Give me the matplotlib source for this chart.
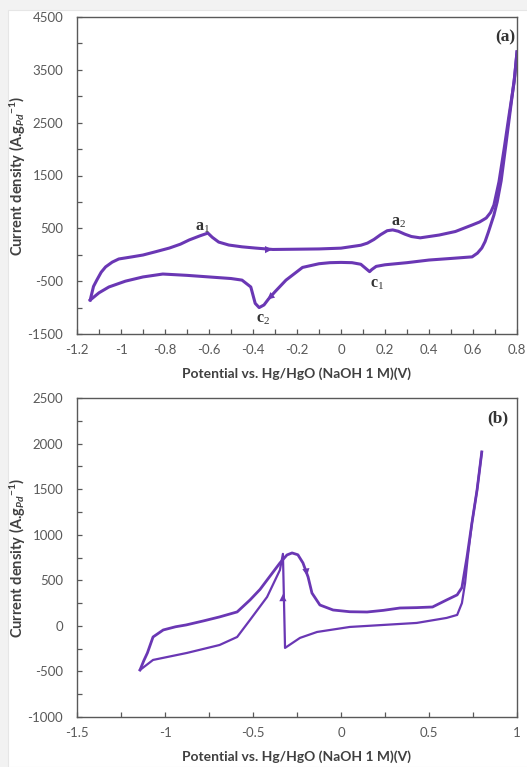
import numpy as np
import matplotlib.pyplot as plt
from matplotlib.patches import Rectangle
from matplotlib.ticker import MultipleLocator

plt.rcParams['font.family'] = ['Lato', 'DejaVu Sans']
plt.rcParams['mathtext.fontset'] = 'custom'
plt.rcParams['mathtext.rm'] = 'Liberation Serif'
plt.rcParams['mathtext.bf'] = 'Liberation Serif:bold'
plt.rcParams['mathtext.it'] = 'Lato:italic:bold'
plt.rcParams['mathtext.sf'] = 'Lato:bold'

# ---- panel (a) : CV, forward (anodic) and reverse (cathodic) scans
a_fwd_x = [-1.14, -1.125, -1.11, -1.09, -1.07, -1.04, -1.01, -0.95, -0.90, -0.84, -0.78,
           -0.73, -0.69, -0.64, -0.605, -0.585, -0.556, -0.51, -0.45, -0.39, -0.31, -0.20,
           -0.10, 0.0, 0.09, 0.12, 0.15, 0.18, 0.21, 0.235, 0.26, 0.29, 0.32, 0.36, 0.446,
           0.52, 0.596, 0.63, 0.66, 0.68, 0.695, 0.718, 0.742, 0.764, 0.787, 0.80]
a_fwd_y = [-857, -600, -480, -330, -230, -140, -80, -40, -5, 60, 127,
           200, 280, 360, 410, 330, 240, 184, 150, 127, 100, 105,
           110, 125, 180, 220, 290, 380, 455, 470, 445, 390, 345, 320, 373,
           440, 563, 620, 695, 800, 940, 1380, 2020, 2645, 3270, 3840]
a_rev_x = [0.80, 0.79, 0.77, 0.75, 0.728, 0.71, 0.695, 0.67, 0.655, 0.64, 0.62, 0.596,
           0.50, 0.40, 0.30, 0.20, 0.16, 0.14, 0.13, 0.11, 0.09, 0.05, 0.0, -0.05,
           -0.10, -0.175, -0.25, -0.30, -0.33, -0.35, -0.372, -0.39, -0.41, -0.45,
           -0.50, -0.60, -0.70, -0.81, -0.90, -0.98, -1.055, -1.10, -1.14]
a_rev_y = [3840, 3400, 2750, 2100, 1400, 1000, 750, 430, 250, 127, 30, -40,
           -70, -100, -150, -190, -220, -280, -320, -250, -180, -150, -145, -150,
           -170, -240, -480, -700, -840, -950, -1000, -920, -610, -480,
           -450, -420, -390, -365, -420, -500, -610, -720, -857]

# ---- panel (b)
b_fwd_x = [-1.142, -1.12, -1.10, -1.068, -1.01, -0.94, -0.88, -0.78, -0.69, -0.59, -0.517,
           -0.46, -0.42, -0.347, -0.307, -0.278, -0.245, -0.216, -0.187, -0.165, -0.12, -0.045,
           0.05, 0.148, 0.24, 0.335, 0.43, 0.52, 0.60, 0.66, 0.687, 0.716, 0.744, 0.773, 0.80]
b_fwd_y = [-484, -380, -297, -122, -45, -10, 10, 55, 98, 153, 284,
           400, 503, 690, 778, 800, 780, 690, 536, 360, 229, 174,
           155, 152, 170, 196, 200, 207, 284, 340, 420, 756, 1129, 1490, 1908]
b_rev_x = [0.80, 0.773, 0.744, 0.72, 0.705, 0.687, 0.66, 0.60, 0.43, 0.24, 0.05,
           -0.136, -0.233, -0.318, -0.33, -0.347, -0.42, -0.517, -0.59,
           -0.69, -0.875, -1.068, -1.142]
b_rev_y = [1908, 1490, 1129, 750, 470, 250, 120, 87, 32, 10, -12,
           -67, -132, -242, 790, 613, 317, 65, -122,
           -210, -297, -374, -484]

# peak labels and scan-direction arrows
a_labels = [('a', '1', -0.63, 505), ('a', '2', 0.26, 600), ('c', '1', 0.165, -570), ('c', '2', -0.355, -1240)]
a_arrows = [((-0.30, 100), (-0.36, 97)), ((-0.345, -880), (-0.29, -690))]
b_arrows = [((-0.33, 380), (-0.33, 150)), ((-0.19, 520), (-0.205, 690))]

purple = '#6a37b4'
grey = '#595959'

fig = plt.figure(figsize=(5.27, 7.67), dpi=100, facecolor='#f2f2f2')
bg = Rectangle((8 / 527, 0), 1, 757 / 767, transform=fig.transFigure,
               facecolor='white', edgecolor='#e6e6e6', lw=0.8, zorder=-10)
fig.add_artist(bg)


def style(ax):
    for s in ax.spines.values():
        s.set_color(grey)
        s.set_linewidth(1.0)
    ax.tick_params(which='both', direction='in', length=3.5, width=0.9, color=grey,
                   labelcolor=grey, labelsize=9.5)
    ax.tick_params(axis='y', pad=10)
    ax.tick_params(axis='x', pad=7)
    ax.set_xlabel('Potential vs. Hg/HgO (NaOH 1 M)(V)', fontsize=10, fontweight='bold',
                  color='#404040', labelpad=8)
    ax.set_ylabel(r'Current density (A.g$_{\mathit{Pd}}$$^{\mathsf{-1}}$)', fontsize=10.5,
                  fontweight='bold', color='#404040')
    ax.yaxis.set_label_coords(-0.112, 0.5)


ax1 = fig.add_axes([77 / 527, 1 - 334 / 767, 440 / 527, 317 / 767])
ax1.plot(a_fwd_x, a_fwd_y, color=purple, lw=2.2, solid_joinstyle='round')
ax1.plot(a_rev_x, a_rev_y, color=purple, lw=2.2, solid_joinstyle='round')
ax1.set_xlim(-1.2, 0.8)
ax1.set_ylim(-1500, 4500)
ax1.xaxis.set_minor_locator(MultipleLocator(0.1))
ax1.yaxis.set_minor_locator(MultipleLocator(500))
ax1.set_xticks(np.arange(-1.2, 0.81, 0.2))
ax1.set_xticklabels(['-1.2', '-1', '-0.8', '-0.6', '-0.4', '-0.2', '0', '0.2', '0.4', '0.6', '0.8'])
ax1.set_yticks(np.arange(-1500, 4501, 1000))
ax1.set_yticklabels([str(v) for v in range(-1500, 4501, 1000)])
style(ax1)
for ch, sub, x, y in a_labels:
    ax1.text(x, y, r'$\mathbf{%s}_{\mathrm{%s}}$' % (ch, sub), fontsize=11.5, color='#333333',
             ha='center', va='center')
for tip, tail in a_arrows:
    ax1.annotate('', xy=tip, xytext=tail,
                 arrowprops=dict(arrowstyle='-|>', color=purple, lw=0, mutation_scale=13))
ax1.text(0.745, 4120, '(a)', fontsize=12.5, fontweight='bold', family='Liberation Serif',
         color='#333333', ha='center', va='center')

ax2 = fig.add_axes([77 / 527, 1 - 717 / 767, 440 / 527, 319 / 767])
ax2.plot(b_fwd_x, b_fwd_y, color=purple, lw=2.0, solid_joinstyle='round')
ax2.plot(b_rev_x, b_rev_y, color=purple, lw=1.6, solid_joinstyle='round')
ax2.set_xlim(-1.5, 1)
ax2.set_ylim(-1000, 2500)
ax2.xaxis.set_minor_locator(MultipleLocator(0.25))
ax2.yaxis.set_minor_locator(MultipleLocator(250))
ax2.set_xticks(np.arange(-1.5, 1.01, 0.5))
ax2.set_xticklabels(['-1.5', '-1', '-0.5', '0', '0.5', '1'])
ax2.set_yticks(np.arange(-1000, 2501, 500))
ax2.set_yticklabels([str(v) for v in range(-1000, 2501, 500)])
style(ax2)
for tip, tail in b_arrows:
    ax2.annotate('', xy=tip, xytext=tail,
                 arrowprops=dict(arrowstyle='-|>', color=purple, lw=0, mutation_scale=13))
ax2.text(0.89, 2280, '(b)', fontsize=12.5, fontweight='bold', family='Liberation Serif',
         color='#333333', ha='center', va='center')

fig.savefig('out.png', dpi=100, facecolor=fig.get_facecolor())
